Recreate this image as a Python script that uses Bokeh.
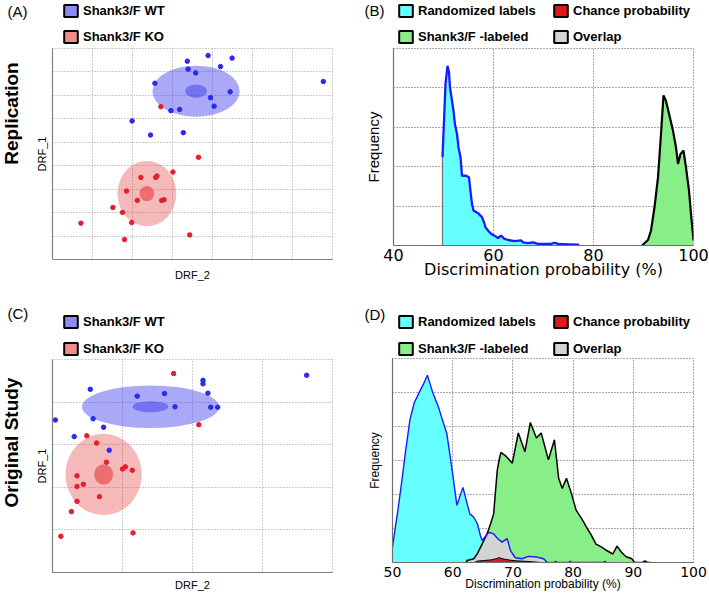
import math
from bokeh.plotting import figure
from bokeh.models import Label, Legend, LegendItem, FixedTicker, Range1d
from bokeh.layouts import row, column
from bokeh.embed import file_html
from bokeh.resources import INLINE

# ---------------- data ----------------
# Panel A (Replication) discriminant scores
A_wt_x = [3.37, 3.89, 4.49, 3.39, 3.58, 4.20, 2.56, 6.77, 4.44, 3.95, 4.04, 2.96, 3.18, 1.99, 2.45, 3.27]
A_wt_y = [8.46, 8.70, 8.59, 8.12, 7.96, 8.23, 7.52, 7.59, 7.15, 6.90, 6.54, 6.35, 6.40, 5.91, 5.31, 5.41]
A_ko_x = [2.71, 3.65, 3.01, 2.21, 2.58, 2.61, 1.85, 2.12, 2.73, 2.79, 1.51, 1.75, 1.98, 0.71, 1.80, 3.43]
A_ko_y = [6.52, 4.36, 3.73, 3.50, 3.50, 3.56, 2.92, 2.52, 2.52, 2.55, 2.22, 2.01, 1.58, 1.55, 0.85, 1.05]
# group ellipses: [WT, KO]
A_cx = [3.59, 2.36]
A_cy = [7.18, 2.81]
A_outer_w = [2.18, 1.47]
A_outer_h = [2.18, 2.78]
A_inner_w = [0.54, 0.37]
A_inner_h = [0.56, 0.66]

# Panel C (Original Study)
C_wt_x = [3.63, 2.15, 2.15, 2.22, 0.54, 1.21, 1.60, 1.75, 2.26, 2.36, 0.04, 0.58, 0.73, 0.31, 0.81]
C_wt_y = [4.63, 4.51, 4.43, 4.21, 4.30, 4.14, 4.20, 3.89, 3.88, 3.88, 3.58, 3.61, 3.41, 3.19, 2.87]
C_ko_x = [1.73, 2.09, 0.49, 0.63, 0.77, 1.00, 1.04, 1.14, 0.35, 0.35, 0.44, 0.67, 0.35, 0.27, 1.15, 0.12]
C_ko_y = [4.67, 3.47, 3.21, 3.04, 2.59, 2.43, 2.48, 2.40, 2.27, 2.02, 2.07, 1.78, 1.67, 1.43, 0.93, 0.85]
C_cx = [1.40, 0.73]
C_cy = [3.89, 2.30]
C_outer_w = [1.96, 1.09]
C_outer_h = [1.00, 1.91]
C_inner_w = [0.51, 0.27]
C_inner_h = [0.26, 0.48]

# Panel B histograms
B_rand_x = [49.8, 50.4, 50.8, 51.1, 51.3, 51.7, 52.0, 52.3, 52.7, 53.0, 53.4, 53.7, 54.5, 55.1, 55.3,
            55.7, 56.0, 56.9, 57.7, 58.1, 58.4, 58.9, 59.5, 60.2, 60.9, 61.5, 62.2, 62.9, 64.2, 65.5,
            65.9, 66.9, 67.9, 68.9, 71.5, 72.2, 72.9, 74.9, 76.9, 77.0]
B_rand_y = [2.24, 4.10, 4.56, 4.39, 4.01, 3.67, 3.42, 3.07, 2.83, 2.49, 2.24, 1.77, 1.77, 1.73, 1.48,
            1.05, 0.89, 0.82, 0.72, 0.59, 0.46, 0.38, 0.30, 0.25, 0.19, 0.25, 0.17, 0.14, 0.11, 0.13,
            0.08, 0.06, 0.08, 0.04, 0.04, 0.07, 0.04, 0.03, 0.02, 0.0]
B_lab_x = [89.7, 90.9, 91.5, 92.2, 92.9, 93.5, 94.0, 94.5, 95.2, 95.9, 96.5, 96.9, 97.4, 98.0, 98.5, 99.1, 99.5, 100.0]
B_lab_y = [0.0, 0.14, 0.38, 0.97, 1.73, 2.83, 3.81, 3.67, 3.29, 2.91, 2.49, 2.07, 2.32, 2.41, 1.98, 1.39, 0.80, 0.13]
B_ticks = [40, 60, 80, 100]

# Panel D histograms
D_rand_x = [50.0, 50.4, 50.9, 51.5, 52.2, 52.9, 53.6, 54.4, 55.1, 55.8, 56.7, 57.6, 58.2, 59.0, 59.6,
            60.0, 60.7, 61.7, 62.4, 62.85, 63.5, 64.1, 64.6, 64.9, 66.0, 66.8, 67.5, 68.2, 69.05, 69.6,
            70.4, 71.5, 72.6, 74.0, 75.1, 75.7, 76.8, 77.1, 77.4, 79.2, 79.5, 79.8, 85.0, 85.3, 85.6]
D_rand_y = [0.46, 0.95, 1.54, 2.33, 3.31, 4.20, 4.69, 4.99, 5.23, 5.51, 4.99, 4.59, 4.25, 3.81, 3.10,
            2.60, 1.68, 2.21, 1.73, 1.43, 1.33, 1.14, 0.79, 0.65, 0.89, 0.84, 0.70, 0.60, 0.70, 0.35,
            0.14, 0.11, 0.18, 0.16, 0.11, 0.0, 0.0, 0.03, 0.0, 0.0, 0.03, 0.0, 0.0, 0.03, 0.0]
D_lab_x = [62.2, 62.4, 63.5, 64.1, 64.9, 65.7, 66.3, 66.8, 67.4, 67.7, 68.0, 68.9, 69.9, 70.9, 72.0, 72.9,
           73.9, 74.7, 75.9, 76.9, 77.6, 78.2, 78.9, 79.7, 80.5, 81.4, 82.2, 83.0, 83.8, 84.7, 85.5,
           86.6, 87.3, 88.0, 88.8, 89.7, 90.2, 91.5, 91.9, 92.4, 93.0]
D_lab_y = [0.0, 0.06, 0.11, 0.26, 0.55, 0.84, 1.14, 1.43, 2.71, 3.0, 3.24, 3.12, 2.92, 3.81, 3.26, 4.12,
           3.66, 3.81, 3.02, 3.61, 2.48, 2.18, 2.48, 2.04, 1.54, 1.30, 1.05, 0.81, 0.54, 0.46, 0.36,
           0.25, 0.48, 0.31, 0.17, 0.12, 0.0, 0.0, 0.05, 0.0, 0.0]
D_ovl_x = [62.4, 63.5, 64.1, 64.9, 66.0, 66.8, 67.5, 68.2, 69.05, 69.6, 70.4, 71.5, 72.6, 74.0, 75.1, 75.7]
D_ovl_y = [0.0, 0.11, 0.26, 0.60, 0.89, 0.84, 0.70, 0.60, 0.70, 0.35, 0.14, 0.11, 0.18, 0.16, 0.11, 0.0]
D_chance_x = [63.6, 64.1, 65.3, 66.5, 67.2, 67.7, 68.5, 69.5, 70.5, 72.5, 74.6]
D_chance_y = [0.0, 0.04, 0.06, 0.08, 0.11, 0.14, 0.10, 0.07, 0.05, 0.03, 0.0]
D_ticks = [50, 60, 70, 80, 90, 100]

group_labels = ["Shank3/F WT", "Shank3/F KO"]
hist_labels = ["Randomized labels", "Chance probability", "Shank3/F -labeled", "Overlap"]

# ---------------- styling / layout ----------------
WT_PT, KO_PT = "#2a2af0", "#e61e2d"
WT_FILL, KO_FILL = "#3c3cee", "#e63c3c"
LEG_WT, LEG_KO = "#8b8bf5", "#f08b8b"
CYAN, GREEN, GRAY, RED = "#66ffff", "#88ee88", "#d3d3d3", "#e01818"
FONT = "Liberation Sans"

TOTAL_W, TOTAL_H = 709, 593
WL, WR = 354, 355
HT, HB = 296, 297
STRIP = 24


def blank(w, h):
    p = figure(width=w, height=h, x_range=Range1d(0, w), y_range=Range1d(0, h),
               min_border=0, output_backend="svg", toolbar_location=None,
               x_axis_type=None, y_axis_type=None)
    p.grid.visible = False
    p.outline_line_color = None
    p.background_fill_color = "white"
    p.border_fill_color = "white"
    return p


class Box:
    """canvas origin (page) and frame rect (canvas coords) of a figure"""
    def __init__(self, ox, oy, fl, ft, fr, fb):
        self.ox, self.oy, self.fl, self.ft, self.fr, self.fb = ox, oy, fl, ft, fr, fb


def lab(p, b, text, rx, ry, size, bold=False, align="left", angle=0.0, font=FONT):
    x = rx - b.ox - b.fl
    y = b.fb - (ry - b.oy)
    p.add_layout(Label(x=x, y=y, x_units="screen", y_units="screen", text=text,
                       text_font=font, text_font_size=f"{size}px",
                       text_font_style="bold" if bold else "normal",
                       text_align=align, text_baseline="middle", angle=angle,
                       text_color="black"))


GH = 15
def leg(p, b, color, text, rx_left, ry_top):
    # legend swatch renderer kept outside the visible header range
    r = p.quad(left=[-30], right=[-20], top=[-20], bottom=[-30], fill_color=color,
               line_color="black", line_width=2)
    x = rx_left - b.ox - b.fl
    ytop = b.fb - (ry_top - b.oy)
    legend = Legend(items=[LegendItem(label=text, renderers=[r])], location=(x, ytop - GH),
                    orientation="vertical", padding=0, spacing=0, margin=0,
                    border_line_color=None, background_fill_alpha=0,
                    glyph_width=17, glyph_height=GH, label_height=GH, label_standoff=4,
                    label_text_font=FONT, label_text_font_style="bold",
                    label_text_font_size="13px", label_text_color="black")
    p.add_layout(legend, "center")


def header(ox, oy, w, h):
    p = blank(w, h)
    return p, Box(ox, oy, 0, 0, w, h)


def main_fig(ox, oy, w, h, ref_frame, xr, yr):
    """figure whose canvas starts at page (ox, oy); frame placed at ref_frame"""
    l, t, r, bm = ref_frame
    fl = l - ox; fr = r - ox
    ft = t - oy; fb = bm - oy
    p = figure(width=w, height=h, x_range=Range1d(*xr), y_range=Range1d(*yr),
               min_border_left=fl, min_border_right=w - fr, min_border_top=ft,
               min_border_bottom=h - fb, output_backend="svg", toolbar_location=None)
    p.background_fill_color = "white"
    p.border_fill_color = "white"
    return p, Box(ox, oy, fl, ft, fr, fb)


def style_axes(p, xt, yt, grid_color, axis_color, xlabels=False, tick_size=14, tick_standoff=3):
    p.xgrid.ticker = FixedTicker(ticks=[v for v in xt])
    p.ygrid.ticker = FixedTicker(ticks=[v for v in yt])
    p.yaxis.ticker = FixedTicker(ticks=[])
    p.xaxis.ticker = FixedTicker(ticks=xt if xlabels else [])
    for ax in (p.xaxis, p.yaxis):
        ax.major_tick_line_color = None
        ax.minor_tick_line_color = None
        ax.major_tick_out = 0
        ax.major_tick_in = 0
        ax.minor_tick_out = 0
        ax.axis_line_color = axis_color
        ax.axis_line_width = 1.2
        ax.major_label_standoff = 0
        ax.axis_label_text_font = FONT
        ax.axis_label_text_font_style = "normal"
        ax.axis_label_text_color = "black"
    if xlabels:
        p.xaxis.major_label_text_font = "DejaVu Sans"
        p.xaxis.major_label_text_font_size = f"{tick_size}px"
        p.xaxis.major_label_standoff = tick_standoff
        p.xaxis.major_label_text_color = "black"
    p.grid.grid_line_color = grid_color
    p.grid.grid_line_dash = "1 2"
    p.grid.grid_line_width = 1
    p.outline_line_color = grid_color
    p.outline_line_dash = "1 2"
    p.outline_line_width = 1


def scatter_panel(p, wt_x, wt_y, ko_x, ko_y, cx, cy, ow, oh, iw, ih):
    p.ellipse(x=[cx[0]], y=[cy[0]], width=[ow[0]], height=[oh[0]], fill_color=WT_FILL,
              fill_alpha=0.44, line_color=None)
    p.ellipse(x=[cx[0]], y=[cy[0]], width=[iw[0]], height=[ih[0]], fill_color=WT_FILL,
              fill_alpha=0.5, line_color=None)
    p.ellipse(x=[cx[1]], y=[cy[1]], width=[ow[1]], height=[oh[1]], fill_color=KO_FILL,
              fill_alpha=0.36, line_color=None)
    p.ellipse(x=[cx[1]], y=[cy[1]], width=[iw[1]], height=[ih[1]], fill_color=KO_FILL,
              fill_alpha=0.6, line_color=None)
    p.scatter(wt_x, wt_y, size=4.5, color=WT_PT)
    p.scatter(ko_x, ko_y, size=4.5, color=KO_PT)


def scatter_block(ox, oy, w, h, ref_frame, xr, yr, xt, yt, letter, ry_letter, side_text,
                  ry_side, leg_tops, data, drf2_standoff):
    ft = ref_frame[1] - oy
    hd, hb = header(ox, oy, w, ft)
    lab(hd, hb, letter, 7, ry_letter, 15)
    leg(hd, hb, LEG_WT, group_labels[0], 62, leg_tops[0])
    leg(hd, hb, LEG_KO, group_labels[1], 62, leg_tops[1])

    st = blank(STRIP, h - ft)
    sb = Box(ox, oy + ft, 0, 0, STRIP, h - ft)
    lab(st, sb, side_text, 11, ry_side, 19, bold=True, align="center", angle=math.pi / 2)

    mp, mb = main_fig(ox + STRIP, oy + ft, w - STRIP, h - ft, ref_frame, xr, yr)
    style_axes(mp, xt, yt, "#9a9a9a", "#808080")
    scatter_panel(mp, *data)
    mp.xaxis.axis_label = "DRF_2"
    mp.xaxis.axis_label_text_font_size = "11px"
    mp.xaxis.axis_label_standoff = drf2_standoff
    mp.yaxis.axis_label = "DRF_1"
    mp.yaxis.axis_label_text_font_size = "11px"
    mp.yaxis.axis_label_standoff = 5
    return column(hd, row(st, mp))


def hist_block(ox, oy, w, h, ref_frame, xr, yr, xt, yt, letter, ry_letter, leg_tops,
               tick_size, tick_standoff, xlab_size, xlab_font, xlab_standoff, ylab_size, ylab_standoff):
    ft = ref_frame[1] - oy
    hd, hb = header(ox, oy, w, ft)
    lab(hd, hb, letter, 364, ry_letter, 15)
    leg(hd, hb, CYAN, hist_labels[0], 397, leg_tops[0])
    leg(hd, hb, RED, hist_labels[1], 552, leg_tops[0])
    leg(hd, hb, GREEN, hist_labels[2], 397, leg_tops[1])
    leg(hd, hb, GRAY, hist_labels[3], 552, leg_tops[1])
    mp, mb = main_fig(ox, oy + ft, w, h - ft, ref_frame, xr, yr)
    style_axes(mp, xt, yt, "#555555", "#707070", xlabels=True, tick_size=tick_size,
               tick_standoff=tick_standoff)
    mp.xaxis.axis_label = "Discrimination probability (%)"
    mp.xaxis.axis_label_text_font = xlab_font
    mp.xaxis.axis_label_text_font_size = f"{xlab_size}px"
    mp.xaxis.axis_label_standoff = xlab_standoff
    mp.yaxis.axis_label = "Frequency"
    mp.yaxis.axis_label_text_font_size = f"{ylab_size}px"
    mp.yaxis.axis_label_standoff = ylab_standoff
    return column(hd, row(mp)), mp


# ---------- Panel A ----------
colA = scatter_block(0, 0, WL, HT, (52, 48, 332, 259), (0, 7), (0, 9),
                     [1, 2, 3, 4, 5, 6], [1, 2, 3, 4, 5, 6, 7, 8], "(A)", 11, "Replication", 150,
                     (3, 29), (A_wt_x, A_wt_y, A_ko_x, A_ko_y, A_cx, A_cy, A_outer_w, A_outer_h,
                               A_inner_w, A_inner_h), 9)

# ---------- Panel C ----------
colC = scatter_block(0, HT, WL, HB, (52, 359, 332, 573), (0, 4), (0, 5),
                     [1, 2, 3], [1, 2, 3, 4], "(C)", 313, "Original Study", 463,
                     (314, 341), (C_wt_x, C_wt_y, C_ko_x, C_ko_y, C_cx, C_cy, C_outer_w, C_outer_h,
                                  C_inner_w, C_inner_h), 6)

# ---------- Panel B ----------
colB, pB = hist_block(WL, 0, WR, HT, (393, 48, 693, 245), (40, 100), (0, 5), B_ticks, [1, 2, 3, 4],
                      "(B)", 10, (3, 29), 16, 3, 16, "DejaVu Sans", -4, 15, 12)
pB.varea(x=B_rand_x, y1=0, y2=B_rand_y, fill_color=CYAN)
pB.varea(x=B_lab_x, y1=0, y2=B_lab_y, fill_color=GREEN)
pB.segment(x0=[B_rand_x[0]], y0=[0], x1=[B_rand_x[0]], y1=[B_rand_y[0]], line_color="#707070", line_width=1.2)
pB.line(B_rand_x, B_rand_y, line_color="#1a1aff", line_width=2.3)
pB.line(B_lab_x, B_lab_y, line_color="black", line_width=2.2)

# ---------- Panel D ----------
colD, pD = hist_block(WL, HT, WR, HB, (392, 358, 693, 562), (50, 100), (0, 6), D_ticks, [1, 2, 3, 4, 5],
                      "(D)", 314, (314, 341), 14, 4, 12, FONT, -3, 12, 11)
pD.varea(x=D_rand_x, y1=0, y2=D_rand_y, fill_color=CYAN)
pD.varea(x=D_lab_x, y1=0, y2=D_lab_y, fill_color=GREEN)
pD.varea(x=D_ovl_x, y1=0, y2=D_ovl_y, fill_color=GRAY)
pD.varea(x=D_chance_x, y1=0, y2=D_chance_y, fill_color=RED)
pD.line(D_lab_x, D_lab_y, line_color="black", line_width=1.5)
pD.line(D_rand_x, D_rand_y, line_color="#1a1aff", line_width=1.4)
pD.line(D_chance_x, D_chance_y, line_color="black", line_width=1)

layout = row(column(colA, colC), column(colB, colD))
open("out.html", "w").write(file_html(layout, INLINE))
